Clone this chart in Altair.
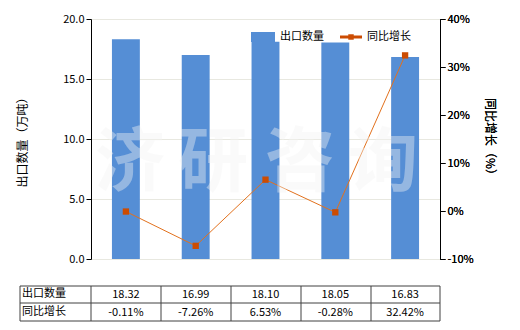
import altair as alt
import pandas as pd

categories = ["2011年", "2012年", "2013年", "2014年", "2015年1-9月"]
export_qty = [18.32, 16.99, 18.10, 18.05, 16.83]
yoy_growth = [-0.11, -7.26, 6.53, -0.28, 32.42]
qty_labels = ["18.32", "16.99", "18.10", "18.05", "16.83"]
growth_labels = ["-0.11%", "-7.26%", "6.53%", "-0.28%", "32.42%"]

df = pd.DataFrame({
    "cat": categories,
    "qty": export_qty,
    "growth": yoy_growth,
    "qty_lbl": qty_labels,
    "growth_lbl": growth_labels,
})
one = pd.DataFrame({"k": [0]})

FONT = "Noto Sans CJK SC"
BAR = "#558ED5"
LINE = "#E2711D"
MARK = "#CC4C02"
W, H = 349, 240

xscale = alt.Scale(domain=categories, paddingInner=0.6, paddingOuter=0.3)
xenc = alt.X("cat:N", scale=xscale, sort=categories,
             axis=alt.Axis(title=None, labelAngle=0, labelFontSize=11, labelFont=FONT,
                           labelColor="#000", domainColor="#000", tickColor="#000",
                           tickSize=5, labelPadding=4, grid=False))

bars = alt.Chart(df).mark_bar(color=BAR).encode(
    x=xenc,
    y=alt.Y("qty:Q", scale=alt.Scale(domain=[0, 20], nice=False),
            axis=alt.Axis(title="出口数量（万吨）", values=[0, 5, 10, 15, 20], format=".1f",
                          labelFontSize=11, labelFont=FONT, labelColor="#000",
                          titleFont=FONT, titleFontSize=12, titleFontWeight="normal",
                          titleColor="#000", titleX=-62, titleY=120,
                          domainColor="#000", tickColor="#000", tickSize=5,
                          gridColor="#E8E8E0", grid=True)),
)

xnoaxis = alt.X("cat:N", scale=xscale, sort=categories, axis=None)

ysec = alt.Y("growth:Q", scale=alt.Scale(domain=[-10, 40], nice=False),
             axis=alt.Axis(title="同比增长（%）", orient="right", values=[-10, 0, 10, 20, 30, 40],
                           labelExpr="datum.value + '%'", labelFontSize=11, labelFont=FONT,
                           labelColor="#000", titleFont=FONT, titleFontSize=12,
                           titleFontWeight="normal", titleColor="#000", titleAngle=90,
                           titleX=49, titleY=120, titleBaseline="middle", titleAlign="center",
                           domainColor="#000", tickColor="#000", tickSize=5, grid=False))

line = alt.Chart(df).mark_line(color=LINE, strokeWidth=1).encode(x=xnoaxis, y=ysec)
points = alt.Chart(df).mark_point(shape="square", filled=True, color=MARK, size=40, opacity=1).encode(
    x=xnoaxis, y=ysec)

# watermark
wm_df = pd.DataFrame({"ch": ["济", "研", "咨", "询"], "px": [39, 122, 209, 292]})
watermark = alt.Chart(wm_df).mark_text(font=FONT, fontSize=70, fontWeight="bold",
                                       color="#F5F5F5", opacity=0.4, baseline="middle").encode(
    x=alt.X("px:Q", scale=None), y=alt.value(146), text="ch:N")

# legend
leg_rect = alt.Chart(one).mark_rect(color=BAR).encode(
    x=alt.value(160), x2=alt.value(184), y=alt.value(13), y2=alt.value(23))
leg_line = alt.Chart(one).mark_rule(color=MARK, strokeWidth=3).encode(
    x=alt.value(249), x2=alt.value(271), y=alt.value(18))
leg_pt = alt.Chart(one).mark_point(shape="square", filled=True, color=MARK, size=30, opacity=1).encode(
    x=alt.value(260), y=alt.value(18))
leg_t1 = alt.Chart(one).mark_text(text="出口数量", font=FONT, fontSize=11, align="left",
                                  baseline="middle", color="#000").encode(x=alt.value(189), y=alt.value(18))
leg_t2 = alt.Chart(one).mark_text(text="同比增长", font=FONT, fontSize=11, align="left",
                                  baseline="middle", color="#000").encode(x=alt.value(276), y=alt.value(18))

# table
hlines = alt.layer(*[
    alt.Chart(one).mark_rule(color="#404040", strokeWidth=1).encode(
        x=alt.value(-71), x2=alt.value(349), y=alt.value(yv)) for yv in [267, 284, 302]
])
vlines = alt.layer(*[
    alt.Chart(one).mark_rule(color="#404040", strokeWidth=1).encode(
        x=alt.value(xv), y=alt.value(267), y2=alt.value(302)) for xv in [-71, 0, 70, 140, 210, 280, 349]
])
row1 = alt.Chart(df).mark_text(font=FONT, fontSize=11, color="#000", baseline="middle").encode(
    x=xnoaxis, y=alt.value(276), text="qty_lbl:N")
row2 = alt.Chart(df).mark_text(font=FONT, fontSize=11, color="#000", baseline="middle").encode(
    x=xnoaxis, y=alt.value(294), text="growth_lbl:N")
rl1 = alt.Chart(one).mark_text(text="出口数量", font=FONT, fontSize=11, align="left",
                               baseline="middle", color="#000").encode(x=alt.value(-69), y=alt.value(275))
rl2 = alt.Chart(one).mark_text(text="同比增长", font=FONT, fontSize=11, align="left",
                               baseline="middle", color="#000").encode(x=alt.value(-69), y=alt.value(293))

chart = alt.layer(
    bars, line, points, watermark, leg_rect, leg_line, leg_pt, leg_t1, leg_t2,
    hlines, vlines, row1, row2, rl1, rl2
).resolve_scale(y="independent").properties(
    width=W, height=H,
    autosize=alt.AutoSizeParams(type="none"),
    padding={"left": 91, "top": 19, "right": 80, "bottom": 71},
).configure_view(stroke=None).configure(background="white")

chart.save("out.html", embed_options={"renderer": "svg", "actions": False})
